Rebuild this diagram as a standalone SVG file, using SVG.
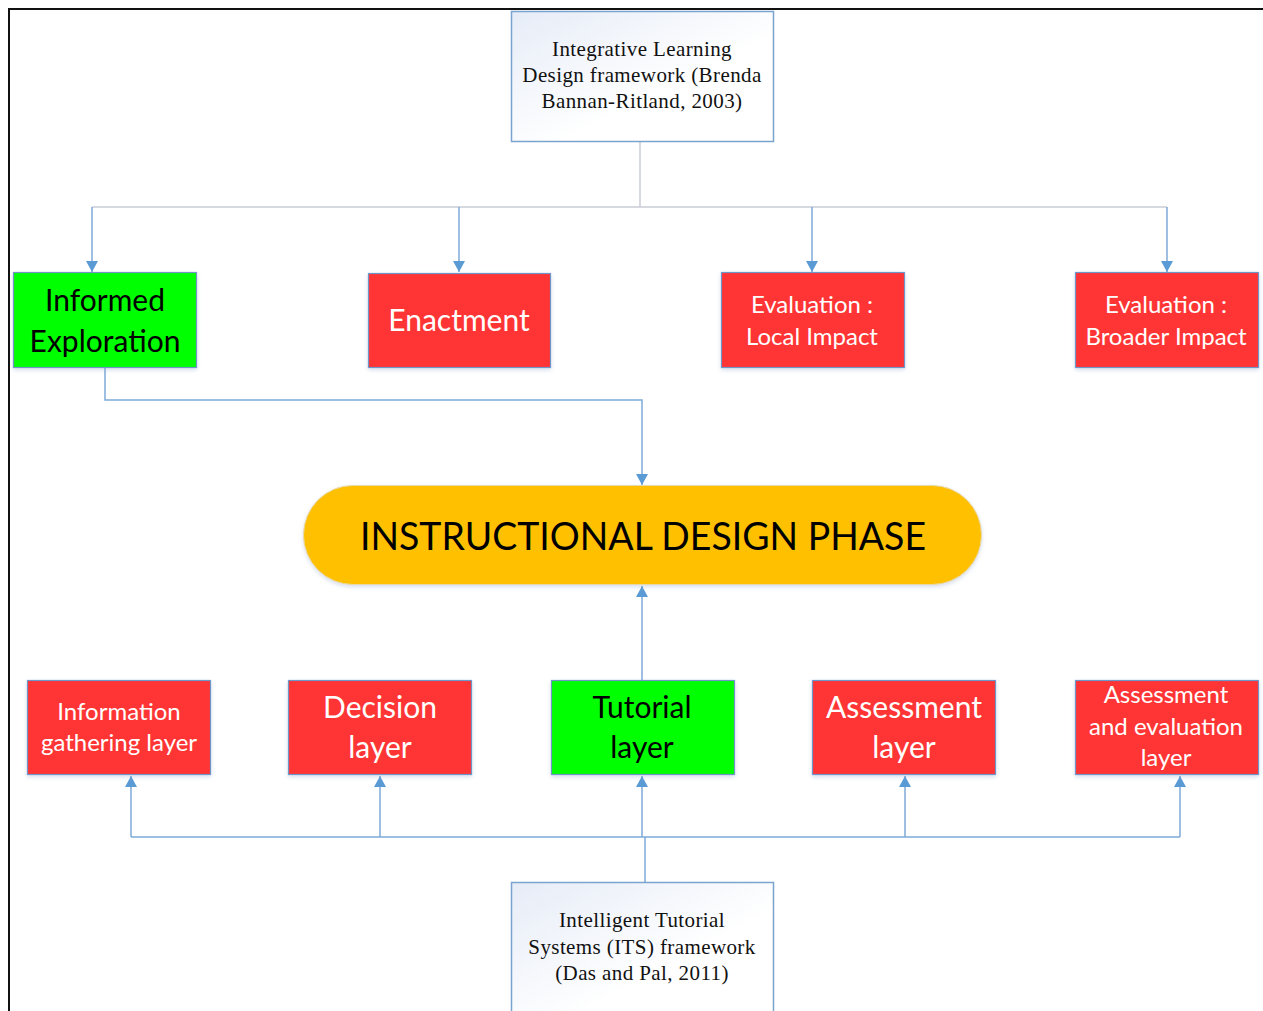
<svg xmlns="http://www.w3.org/2000/svg" width="1263" height="1011" viewBox="0 0 1263 1011">
  <style>
    .frame { fill: none; stroke: #111; stroke-width: 2; }
    .src { fill: url(#srcFill); stroke: #7aa3d0; stroke-width: 1.5; }
    .src-text { font-family: "Liberation Serif", "Times New Roman", serif; font-size: 21px; letter-spacing: 0.4px; fill: #111; text-anchor: middle; }
    .red { fill: #ff3535; stroke: #6f95c8; stroke-width: 1.2; filter: url(#soft); }
    .green { fill: #00ff00; stroke: #6f95c8; stroke-width: 1.2; filter: url(#soft); }
    .pill { fill: #ffc000; stroke: #e8d9a8; stroke-width: 1; filter: url(#soft); }
    .lbl { font-family: Lato, "Open Sans", "Liberation Sans", sans-serif; text-anchor: middle; }
    .w { fill: #ffffff; }
    .k { fill: #000000; }
    .big { font-size: 30px; }
    .mid { font-size: 24px; }
    .link { fill: none; stroke: #7eaad8; stroke-width: 1.5; }
    .trunk { fill: none; stroke: #c9ced6; stroke-width: 1.5; }
  </style>
  <defs>
    <linearGradient id="srcFill" x1="0" y1="0" x2="1" y2="1">
      <stop offset="0" stop-color="#e6ecf7"/>
      <stop offset="0.6" stop-color="#ffffff"/>
    </linearGradient>
    <filter id="soft" x="-10%" y="-10%" width="120%" height="130%">
      <feDropShadow dx="0" dy="2" stdDeviation="2" flood-color="#8aa3c8" flood-opacity="0.35"/>
    </filter>
    <marker id="arrow" viewBox="0 0 10 10" refX="10" refY="5" markerWidth="11" markerHeight="12" markerUnits="userSpaceOnUse" orient="auto" preserveAspectRatio="none">
      <path d="M0,0 L10,5 L0,10 Z" fill="#5b9bd5"/>
    </marker>
  </defs>

  <rect width="1263" height="1011" fill="#ffffff"/>

  <!-- page frame: top and left edges -->
  <path class="frame" d="M9,1011 V9 H1263"/>

  <!-- connectors -->
  <g id="connectors">
    <path class="trunk" d="M640,141 V207 M92,207 H1167"/>
    <path class="link" d="M92,207 V272" marker-end="url(#arrow)"/>
    <path class="link" d="M459,207 V272" marker-end="url(#arrow)"/>
    <path class="link" d="M812,207 V272" marker-end="url(#arrow)"/>
    <path class="link" d="M1167,207 V272" marker-end="url(#arrow)"/>
    <path class="link" d="M105,368 V400 H642 V485" marker-end="url(#arrow)"/>
    <path class="link" d="M642,680 V586" marker-end="url(#arrow)"/>
    <path class="link" d="M645,882 V837 M131,837 H1180"/>
    <path class="link" d="M131,837 V776" marker-end="url(#arrow)"/>
    <path class="link" d="M380,837 V776" marker-end="url(#arrow)"/>
    <path class="link" d="M642,837 V776" marker-end="url(#arrow)"/>
    <path class="link" d="M905,837 V776" marker-end="url(#arrow)"/>
    <path class="link" d="M1180,837 V776" marker-end="url(#arrow)"/>
  </g>

  <!-- source framework: top -->
  <g id="ild-framework">
    <rect class="src" x="511.5" y="11.5" width="262" height="130"/>
    <text class="src-text" x="642" y="56">Integrative Learning</text>
    <text class="src-text" x="642" y="82">Design framework (Brenda</text>
    <text class="src-text" x="642" y="108">Bannan-Ritland, 2003)</text>
  </g>

  <!-- phases -->
  <g id="informed-exploration">
    <rect class="green" x="13.5" y="272.5" width="183" height="95"/>
    <text class="lbl k big" x="105" y="311">Informed</text>
    <text class="lbl k big" x="105" y="352">Exploration</text>
  </g>
  <g id="enactment">
    <rect class="red" x="368.5" y="273.5" width="182" height="94"/>
    <text class="lbl w big" x="459" y="331">Enactment</text>
  </g>
  <g id="evaluation-local">
    <rect class="red" x="721.5" y="272.5" width="183" height="95"/>
    <text class="lbl w mid" x="812" y="313">Evaluation :</text>
    <text class="lbl w mid" x="812" y="345">Local Impact</text>
  </g>
  <g id="evaluation-broader">
    <rect class="red" x="1075.5" y="272.5" width="183" height="95"/>
    <text class="lbl w mid" x="1166" y="313">Evaluation :</text>
    <text class="lbl w mid" x="1166" y="345">Broader Impact</text>
  </g>

  <!-- central phase -->
  <g id="instructional-design-phase">
    <rect class="pill" x="303.5" y="485.5" width="678" height="99" rx="49.5" ry="49.5"/>
    <text class="lbl k" x="643" y="550" font-size="38" textLength="566" lengthAdjust="spacingAndGlyphs">INSTRUCTIONAL DESIGN PHASE</text>
  </g>

  <!-- ITS layers -->
  <g id="information-gathering">
    <rect class="red" x="27.5" y="680.5" width="183" height="94"/>
    <text class="lbl w mid" x="119" y="720">Information</text>
    <text class="lbl w mid" x="119" y="751">gathering layer</text>
  </g>
  <g id="decision-layer">
    <rect class="red" x="288.5" y="680.5" width="183" height="94"/>
    <text class="lbl w big" x="380" y="718">Decision</text>
    <text class="lbl w big" x="380" y="758">layer</text>
  </g>
  <g id="tutorial-layer">
    <rect class="green" x="551.5" y="680.5" width="183" height="94"/>
    <text class="lbl k big" x="642" y="718">Tutorial</text>
    <text class="lbl k big" x="642" y="758">layer</text>
  </g>
  <g id="assessment-layer">
    <rect class="red" x="812.5" y="680.5" width="183" height="94"/>
    <text class="lbl w big" x="904" y="718">Assessment</text>
    <text class="lbl w big" x="904" y="758">layer</text>
  </g>
  <g id="assessment-evaluation-layer">
    <rect class="red" x="1075.5" y="680.5" width="183" height="94"/>
    <text class="lbl w mid" x="1166" y="703">Assessment</text>
    <text class="lbl w mid" x="1166" y="735">and evaluation</text>
    <text class="lbl w mid" x="1166" y="766">layer</text>
  </g>

  <!-- source framework: bottom -->
  <g id="its-framework">
    <rect class="src" x="511.5" y="882.5" width="262" height="140"/>
    <text class="src-text" x="642" y="927">Intelligent Tutorial</text>
    <text class="src-text" x="642" y="954">Systems (ITS) framework</text>
    <text class="src-text" x="642" y="980">(Das and Pal, 2011)</text>
  </g>
</svg>
